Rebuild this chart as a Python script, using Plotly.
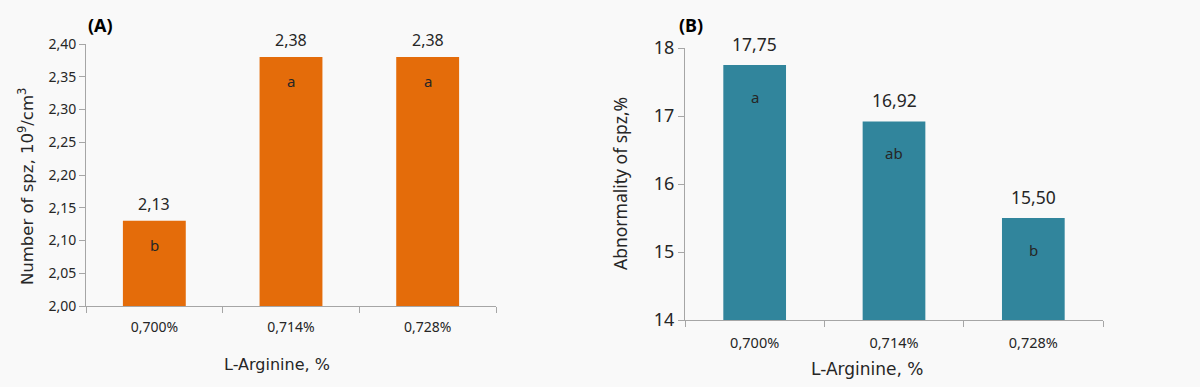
import plotly.graph_objects as go

categories = ["0,700%", "0,714%", "0,728%"]
sperm_count = [2.13, 2.38, 2.38]
count_letters = ["b", "a", "a"]
abnormality = [17.75, 16.92, 15.50]
abn_letters = ["a", "ab", "b"]
count_ticks = [2.00, 2.05, 2.10, 2.15, 2.20, 2.25, 2.30, 2.35, 2.40]
abn_ticks = [14, 15, 16, 17, 18]

ORANGE = "#E46C0A"
TEAL = "#31859C"
BG = "#F9F9F9"
AX = "#A6A6A6"
TXT = "#262626"
NUM_FONT = "Noto Sans"
LAB_FONT = "DejaVu Sans"

def fmt(v):
    return f"{v:.2f}".replace(".", ",")

fig = go.Figure()
fig.add_trace(go.Bar(x=categories, y=sperm_count, marker=dict(color=ORANGE, line=dict(width=0)),
                     width=0.46, xaxis="x", yaxis="y", hoverinfo="skip", showlegend=False))
fig.add_trace(go.Bar(x=categories, y=abnormality, marker=dict(color=TEAL, line=dict(width=0)),
                     width=0.45, xaxis="x2", yaxis="y2", hoverinfo="skip", showlegend=False))

ann = []
C = dict(xanchor="center", yanchor="middle", showarrow=False)
for c, v, l in zip(categories, sperm_count, count_letters):
    ann.append(dict(x=c, y=v, xref="x", yref="y", text=fmt(v), yshift=17,
                    font=dict(family=NUM_FONT, size=16, color=TXT), **C))
    ann.append(dict(x=c, y=v, xref="x", yref="y", text=l, yshift=-24,
                    font=dict(family=NUM_FONT, size=15, color=TXT), **C))
for c, v, l in zip(categories, abnormality, abn_letters):
    ann.append(dict(x=c, y=v, xref="x2", yref="y2", text=fmt(v), yshift=21,
                    font=dict(family=NUM_FONT, size=17.5, color=TXT), **C))
    ann.append(dict(x=c, y=v, xref="x2", yref="y2", text=l, yshift=-32,
                    font=dict(family=NUM_FONT, size=15, color=TXT), **C))

ann.append(dict(x=100 / 1200, y=1 - 25 / 387, xref="paper", yref="paper", text="<b>(A)</b>",
                font=dict(family=NUM_FONT, size=18, color="#000"), **C))
ann.append(dict(x=691 / 1200, y=1 - 25 / 387, xref="paper", yref="paper", text="<b>(B)</b>",
                font=dict(family=NUM_FONT, size=18, color="#000"), **C))
# axis titles
ann.append(dict(x=26 / 1200, y=1 - 187 / 387, xref="paper", yref="paper",
                text="Number of spz, 10<sup>9</sup>/cm<sup>3</sup>", textangle=-90,
                font=dict(family=LAB_FONT, size=16.5, color=TXT), **C))
ann.append(dict(x=620 / 1200, y=1 - 184 / 387, xref="paper", yref="paper",
                text="Abnormality of spz,%", textangle=-90,
                font=dict(family=NUM_FONT, size=17.5, color=TXT), **C))
ann.append(dict(x=277 / 1200, y=1 - 364 / 387, xref="paper", yref="paper",
                text="L-Arginine, %", font=dict(family=LAB_FONT, size=16, color=TXT), **C))
ann.append(dict(x=867 / 1200, y=1 - 369 / 387, xref="paper", yref="paper",
                text="L-Arginine, %", font=dict(family=LAB_FONT, size=17, color=TXT), **C))

xcommon = dict(type="category", tickson="boundaries", ticks="outside", ticklen=6, tickcolor=AX,
               showline=True, linecolor=AX, linewidth=1, showgrid=False, zeroline=False,
               range=[-0.5, 2.5], fixedrange=True, automargin=False)
ycommon = dict(ticks="outside", ticklen=6, tickcolor=AX, showline=True, linecolor=AX, linewidth=1,
               showgrid=False, zeroline=False, fixedrange=True, automargin=False)

fig.update_layout(
    width=1200, height=387, margin=dict(l=0, r=0, t=0, b=0, pad=0), autosize=False,
    paper_bgcolor=BG, plot_bgcolor=BG, bargap=0.54,
    xaxis=dict(domain=[86 / 1200, 496 / 1200], anchor="y", ticklabelstandoff=8,
               tickfont=dict(family=NUM_FONT, size=14, color=TXT), **xcommon),
    yaxis=dict(domain=[81 / 387, 343 / 387], anchor="x", range=[2.0, 2.4],
               tickvals=count_ticks, ticktext=[fmt(t) for t in count_ticks],
               tickfont=dict(family=NUM_FONT, size=14, color=TXT), **ycommon),
    xaxis2=dict(domain=[685 / 1200, 1103 / 1200], anchor="y2", ticklabelstandoff=10,
                tickfont=dict(family=NUM_FONT, size=14.5, color=TXT), **xcommon),
    yaxis2=dict(domain=[67 / 387, 339 / 387], anchor="x2", range=[14, 18],
                tickvals=abn_ticks, ticktext=[str(t) for t in abn_ticks],
                tickfont=dict(family=NUM_FONT, size=18, color=TXT), **ycommon),
    annotations=ann,
)

fig.write_html("out.html", config={"displayModeBar": False, "responsive": False},
               post_script="document.body.style.margin='0';document.body.style.overflow='hidden';")
